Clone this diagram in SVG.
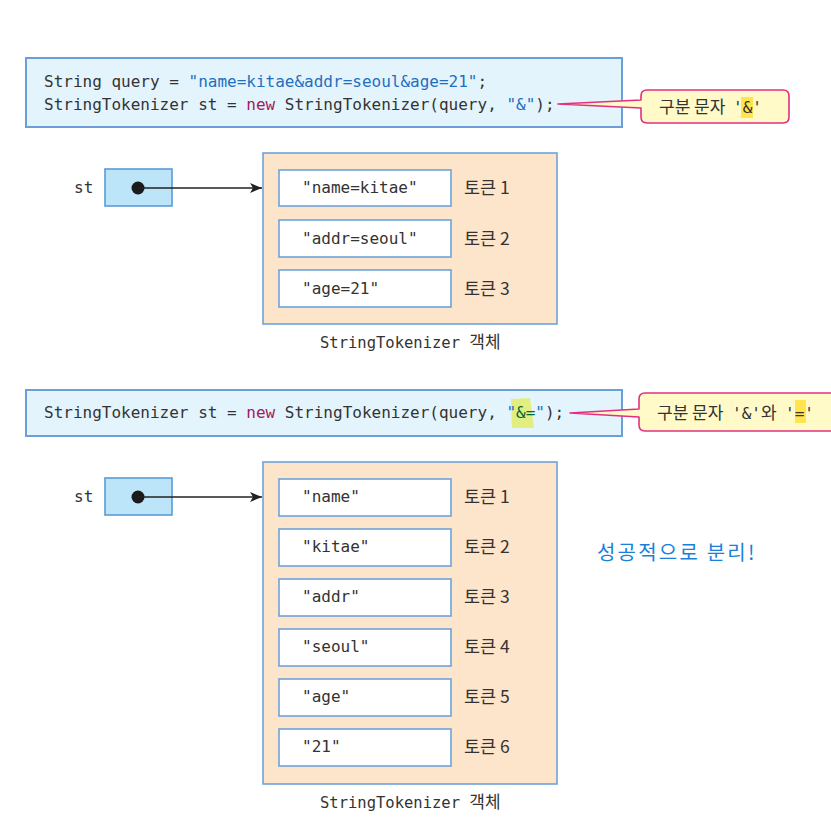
<svg xmlns="http://www.w3.org/2000/svg" width="831" height="824" viewBox="0 0 831 824">
<defs>
<style>
.code{font-family:"DejaVu Sans Mono","Liberation Mono",monospace;font-size:16px;fill:#333}
.str{fill:#1f6fc0}
.kw{fill:#a3185a}
.codebox{fill:#e3f4fd;stroke:#6c9fd8;stroke-width:2}
.call{fill:#fffac8;stroke:#e2307f;stroke-width:1.6;stroke-linejoin:round}
.ko{font-family:"Noto Sans CJK KR","Noto Sans",sans-serif;font-size:17px;fill:#333}
.kl{font-family:"Noto Sans CJK KR","Noto Sans",sans-serif;font-size:17.5px;fill:#333}
.ref{fill:#bde5fa;stroke:#5b9bd5;stroke-width:1.6}
.obj{fill:#fde5cc;stroke:#6fa3db;stroke-width:1.6}
.tok{fill:#fff;stroke:#6fa3db;stroke-width:1.6}
.tt{font-family:"DejaVu Sans Mono","Liberation Mono",monospace;font-size:16px;fill:#333}
.lbl{font-family:"DejaVu Sans Mono","Liberation Mono",monospace;font-size:15.5px;fill:#333}
.edge{stroke:#222;stroke-width:1.6;fill:none}
</style>
<marker id="ah" viewBox="0 0 12 10" refX="12" refY="5" markerWidth="12" markerHeight="10" markerUnits="userSpaceOnUse" orient="auto">
<path d="M0,0 L12,5 L0,10 L3,5 Z" fill="#222"/>
</marker>
</defs>

<g id="code1">
<rect class="codebox" x="26" y="58" width="596" height="69"/>
<text class="code" x="44" y="87">String query = <tspan class="str">"name=kitae&amp;addr=seoul&amp;age=21"</tspan>;</text>
<text class="code" x="44" y="110">StringTokenizer st = <tspan class="kw">new</tspan> StringTokenizer(query, <tspan class="str">"&amp;"</tspan>);</text>
</g>

<g id="callout1">
<path class="call" d="M647 90 H783 Q789 90 789 96 V117 Q789 123 783 123 H647 Q641 123 641 117 V108 L558 104 L641 100 V96 Q641 90 647 90 Z"/>
<rect x="741" y="97" width="12" height="21" fill="#ffe44d"/>
<text class="ko" x="659" y="113">구분 문자</text>
<text class="code" x="733" y="113">'&amp;'</text>
</g>

<g id="st1">
<text class="code" x="74" y="193">st</text>
<rect class="ref" x="105" y="169" width="67" height="37"/>
<circle cx="138" cy="188" r="6.5" fill="#1a1a1a"/>
</g>

<g id="obj1">
<rect class="obj" x="263" y="153" width="294" height="171"/>
<rect class="tok" x="279" y="170" width="172" height="36"/>
<text class="tt" x="302" y="193">"name=kitae"</text>
<text class="kl" x="464" y="194">토큰 1</text>
<rect class="tok" x="279" y="220" width="172" height="37"/>
<text class="tt" x="302" y="244">"addr=seoul"</text>
<text class="kl" x="464" y="245">토큰 2</text>
<rect class="tok" x="279" y="270" width="172" height="37"/>
<text class="tt" x="302" y="294">"age=21"</text>
<text class="kl" x="464" y="295">토큰 3</text>
<text class="lbl" x="320" y="348">StringTokenizer <tspan class="ko">객체</tspan></text>
</g>

<g id="code2">
<rect class="codebox" x="26" y="390" width="596" height="46"/>
<path d="M511 399 L530 398 L534 428 L512 428 Z" fill="#e2ec6a" opacity="0.85"/>
<text class="code" x="44" y="418">StringTokenizer st = <tspan class="kw">new</tspan> StringTokenizer(query, <tspan class="str">"</tspan><tspan fill="#006837">&amp;=</tspan><tspan class="str">"</tspan>);</text>
</g>

<g id="callout2">
<path class="call" d="M645 393 H845 V431 H645 Q639 431 639 425 V417 L570 413 L639 409 V399 Q639 393 645 393 Z"/>
<rect x="795" y="400" width="11" height="23" fill="#ffe44d"/>
<text class="ko" x="657" y="419">구분 문자</text>
<text class="code" x="732" y="419">'&amp;'</text>
<text class="ko" x="761" y="419">와</text>
<text class="code" x="785" y="419">'='</text>
</g>

<g id="st2">
<text class="code" x="74" y="502">st</text>
<rect class="ref" x="105" y="478" width="67" height="37"/>
<circle cx="138" cy="497" r="6.5" fill="#1a1a1a"/>
</g>

<g id="obj2">
<rect class="obj" x="263" y="462" width="294" height="322"/>
<rect class="tok" x="279" y="479" width="172" height="37"/>
<text class="tt" x="302" y="502">"name"</text>
<text class="kl" x="464" y="503">토큰 1</text>
<rect class="tok" x="279" y="529" width="172" height="37"/>
<text class="tt" x="302" y="552">"kitae"</text>
<text class="kl" x="464" y="553">토큰 2</text>
<rect class="tok" x="279" y="579" width="172" height="37"/>
<text class="tt" x="302" y="602">"addr"</text>
<text class="kl" x="464" y="603">토큰 3</text>
<rect class="tok" x="279" y="629" width="172" height="37"/>
<text class="tt" x="302" y="652">"seoul"</text>
<text class="kl" x="464" y="653">토큰 4</text>
<rect class="tok" x="279" y="679" width="172" height="37"/>
<text class="tt" x="302" y="702">"age"</text>
<text class="kl" x="464" y="703">토큰 5</text>
<rect class="tok" x="279" y="729" width="172" height="37"/>
<text class="tt" x="302" y="752">"21"</text>
<text class="kl" x="464" y="753">토큰 6</text>
<text class="lbl" x="320" y="808">StringTokenizer <tspan class="ko">객체</tspan></text>
</g>

<g id="note">
<text x="597" y="560" font-family="'Noto Sans CJK KR','Noto Sans',sans-serif" font-size="20" letter-spacing="2.2" fill="#1a7fd8">성공적으로 분리!</text>
</g>

<g id="connectors">
<line class="edge" x1="138" y1="188" x2="262" y2="188" marker-end="url(#ah)"/>
<line class="edge" x1="138" y1="497" x2="262" y2="497" marker-end="url(#ah)"/>
</g>
</svg>
